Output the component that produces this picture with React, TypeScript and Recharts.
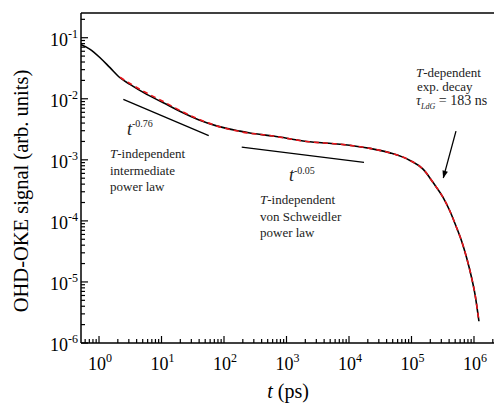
import { LineChart, Line, XAxis, YAxis, ReferenceLine } from "recharts";

const FONT = "Liberation Serif, Times New Roman, Times, serif";

// axis ranges (log)
const X_MIN = 0.515;
const X_MAX = 2.09e6;
const Y_MIN = 1e-6;
const Y_MAX = 0.254;

const X_MAJOR = [1, 10, 100, 1e3, 1e4, 1e5, 1e6];
const X_MAJOR_EXP = ["0", "1", "2", "3", "4", "5", "6"];
const Y_MAJOR = [1e-6, 1e-5, 1e-4, 1e-3, 1e-2, 1e-1];
const Y_MAJOR_EXP = ["-6", "-5", "-4", "-3", "-2", "-1"];

// measured OHD-OKE signal
const T_DATA = [0.5, 0.72, 1.04, 1.5, 2.17, 3.13, 5.8, 10.7, 20, 40, 76, 180, 260, 615, 2100, 7180, 21700, 45300, 94600, 154500, 223000, 323000, 413000, 528000, 635000, 764000, 918000, 1.04e6, 1.2e6];
const SIGNAL = [0.078, 0.0646, 0.047, 0.0323, 0.0221, 0.0172, 0.0118, 0.0086, 0.0062, 0.0045, 0.0036, 0.00295, 0.00275, 0.00245, 0.002, 0.0018, 0.00154, 0.0013, 9.77e-4, 6.97e-4, 4.2e-4, 2.38e-4, 1.44e-4, 7.7e-5, 4.65e-5, 2.47e-5, 1.16e-5, 6.2e-6, 2.27e-6];

// fit (red dashed)
const T_FIT = [2.17, 3.13, 5.8, 10.7, 20, 40, 76, 180, 615, 2100, 7180, 21700, 45300, 94600, 154500, 223000, 323000, 413000, 528000, 635000, 764000, 918000, 1.04e6, 1.2e6];
const FIT = [0.0225, 0.0178, 0.0124, 0.009, 0.0064, 0.0046, 0.0036, 0.0029, 0.00245, 0.002, 0.0018, 0.00154, 0.0013, 9.77e-4, 6.97e-4, 4.2e-4, 2.38e-4, 1.44e-4, 7.7e-5, 4.65e-5, 2.47e-5, 1.16e-5, 6.2e-6, 2.27e-6];

// guide lines for the power laws
const T_GUIDE_1 = [2.45, 57];
const V_GUIDE_1 = [0.0098, 0.0025];
const T_GUIDE_2 = [192, 17400];
const V_GUIDE_2 = [0.00162, 9.1e-4];

// arrow to the exponential decay
const T_ARROW = [515000, 323000];
const V_ARROW = [0.00295, 5.07e-4];

const rows = (ts: number[], vs: number[]) => ts.map((t, i) => ({ t, v: vs[i] }));

const withMinors = (majors: number[], lo: number, hi: number) => {
  const out: number[] = [];
  for (const m of [majors[0] / 10, ...majors]) {
    for (let k = 1; k <= 9; k++) {
      const v = m * k;
      if (v >= lo && v <= hi) out.push(v);
    }
  }
  return out;
};

const X_TICKS = withMinors(X_MAJOR, X_MIN, X_MAX);
const Y_TICKS = withMinors(Y_MAJOR, Y_MIN, Y_MAX);

const majorIndex = (list: number[], v: number) =>
  list.findIndex((m) => Math.abs(Math.log10(v) - Math.log10(m)) < 1e-6);

function XTick(props: any) {
  const { x, y, payload } = props;
  const idx = majorIndex(X_MAJOR, payload.value);
  const major = idx >= 0;
  return (
    <g>
      <line x1={x} x2={x} y1={y} y2={y - (major ? 7 : 4)} stroke="#000" strokeWidth={1.2} />
      {major && (
        <text x={x + 1} y={y + 27} textAnchor="middle" style={{ fontFamily: FONT, fontSize: 18 }} fill="#000">
          <tspan>10</tspan>
          <tspan dy={-8} style={{ fontSize: 12 }}>{X_MAJOR_EXP[idx]}</tspan>
        </text>
      )}
    </g>
  );
}

function YTick(props: any) {
  const { x, y, payload } = props;
  const idx = majorIndex(Y_MAJOR, payload.value);
  const major = idx >= 0;
  return (
    <g>
      <line x1={x} x2={x + (major ? 7 : 4)} y1={y} y2={y} stroke="#000" strokeWidth={1.2} />
      {major && (
        <text x={x - 3} y={y + 8} textAnchor="end" style={{ fontFamily: FONT, fontSize: 18 }} fill="#000">
          <tspan>10</tspan>
          <tspan dy={-8} style={{ fontSize: 12 }}>{Y_MAJOR_EXP[idx]}</tspan>
        </text>
      )}
    </g>
  );
}

export default function App() {
  const annot = { style: { fontFamily: FONT, fontSize: 13 }, fill: "#222" };
  const it = { fontStyle: "italic" as const };
  return (
    <div style={{ position: "absolute", left: 0, top: 0, width: 494, height: 405, background: "#fff", fontFamily: FONT }}>
      <LineChart width={494} height={405} margin={{ top: 13, right: 0, bottom: 0, left: 0 }}>
        <XAxis
          dataKey="t" type="number" scale="log" domain={[X_MIN, X_MAX]} allowDataOverflow
          ticks={X_TICKS} interval={0} tickSize={0} tickMargin={0} tickLine={false}
          tick={<XTick />} height={62} axisLine={{ stroke: "#000", strokeWidth: 1.5 }}
        />
        <YAxis
          dataKey="v" type="number" scale="log" domain={[Y_MIN, Y_MAX]} allowDataOverflow
          ticks={Y_TICKS} interval={0} tickSize={0} tickMargin={0} tickLine={false}
          tick={<YTick />} width={81} axisLine={{ stroke: "#000", strokeWidth: 1.5 }}
        />
        <ReferenceLine y={Y_MAX} stroke="#000" strokeWidth={1.5} />
        <Line data={rows(T_DATA, SIGNAL)} dataKey="v" type="monotone" stroke="#000" strokeWidth={1.6} dot={false} isAnimationActive={false} />
        <Line data={rows(T_FIT, FIT)} dataKey="v" type="monotone" stroke="#e8141a" strokeWidth={1.6} strokeDasharray="5 4" dot={false} isAnimationActive={false} />
        <Line data={rows(T_GUIDE_1, V_GUIDE_1)} dataKey="v" type="linear" stroke="#000" strokeWidth={1.3} dot={false} isAnimationActive={false} />
        <Line data={rows(T_GUIDE_2, V_GUIDE_2)} dataKey="v" type="linear" stroke="#000" strokeWidth={1.3} dot={false} isAnimationActive={false} />
        <Line data={rows(T_ARROW, V_ARROW)} dataKey="v" type="linear" stroke="#000" strokeWidth={1.3} dot={false} markerEnd="url(#arrowHead)" isAnimationActive={false} />
      </LineChart>
      <svg width={494} height={405} style={{ position: "absolute", left: 0, top: 0, pointerEvents: "none" }}>
        <defs>
          <marker id="arrowHead" viewBox="0 0 10 10" refX="9" refY="5" markerWidth="10" markerHeight="8" markerUnits="userSpaceOnUse" orient="auto">
            <path d="M0,1.5 L10,5 L0,8.5 Z" fill="#000" />
          </marker>
        </defs>
        <text x={28} y={191} transform="rotate(-90, 28, 191)" textAnchor="middle" style={{ fontFamily: FONT, fontSize: 20.5 }} fill="#000">
          OHD-OKE signal (arb. units)
        </text>
        <text x={288} y={398} textAnchor="middle" style={{ fontFamily: FONT, fontSize: 20 }} fill="#000">
          <tspan style={it}>t</tspan> (ps)
        </text>

        <text x={127} y={135} style={{ fontFamily: FONT, fontSize: 18, ...it }} fill="#222">t</text>
        <text x={132} y={127} style={{ fontFamily: FONT, fontSize: 10 }} fill="#222">-0.76</text>
        <text x={110} y={158} {...annot}><tspan style={it}>T</tspan>-independent</text>
        <text x={110} y={174.5} {...annot}>intermediate</text>
        <text x={110} y={191} {...annot}>power law</text>

        <text x={289} y={181} style={{ fontFamily: FONT, fontSize: 18, ...it }} fill="#222">t</text>
        <text x={294} y={174} style={{ fontFamily: FONT, fontSize: 10 }} fill="#222">-0.05</text>
        <text x={260} y={204} {...annot}><tspan style={it}>T</tspan>-independent</text>
        <text x={260} y={220.5} {...annot}>von Schweidler</text>
        <text x={260} y={237} {...annot}>power law</text>

        <text x={416} y={77} {...annot}><tspan style={it}>T</tspan>-dependent</text>
        <text x={417} y={91} {...annot}>exp. decay</text>
        <text x={416} y={105} style={{ fontFamily: FONT, fontSize: 14 }} fill="#222">
          <tspan style={it}>τ</tspan>
          <tspan dy={4} style={{ fontSize: 8, ...it }}>LdG</tspan>
          <tspan dy={-4}> = 183 ns</tspan>
        </text>
      </svg>
    </div>
  );
}
